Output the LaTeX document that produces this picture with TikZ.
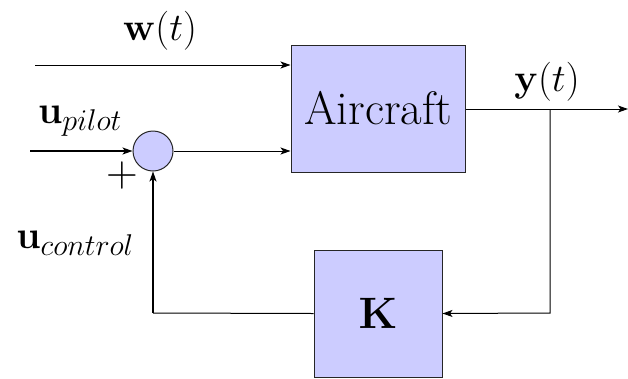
\documentclass[tikz,border=0pt]{standalone}
\usepackage{fix-cm}
\usetikzlibrary{arrows.meta}
\definecolor{boxfill}{RGB}{204,204,255}
\renewcommand{\defaultscriptratio}{.77}
\begin{document}
\begin{tikzpicture}[x=1pt,y=-1pt,
  blockbox/.style={draw=black!85,line width=1pt,fill=boxfill,inner sep=0pt,minimum width=174pt,minimum height=127pt},
  sumnode/.style={circle,draw=black!85,line width=1pt,fill=boxfill,inner sep=0pt,minimum size=40pt},
  conn/.style={line width=1pt,-{Stealth[length=10pt,width=7pt,inset=2.5pt]}},
  plainconn/.style={line width=1pt},
  lbl/.style={anchor=base,inner sep=0pt,font=\fontsize{39}{44}\selectfont}]
\useasboundingbox (0,0) rectangle (628,378);
\node[blockbox] (air) at (378,108.5) {\fontsize{47}{52}\selectfont Aircraft};
\node[blockbox,minimum width=128pt] (K) at (378,313.5) {\fontsize{44}{50}\selectfont$\mathbf{K}$};
\node[sumnode] (sum) at (153,151) {};
\coordinate (win) at (35,65);
\coordinate (pin) at (30,151);
\coordinate (yout) at (628,109);
\coordinate (br) at (550,109);
\coordinate (brd) at (550,313);
\coordinate (cl) at (153,313);
\draw[conn] (win) -- (win -| air.west);
\draw[conn,line width=1.4pt] (pin) -- (sum.west);
\draw[conn] (sum.east) -- (sum.east -| air.west);
\draw[conn] (air.east |- yout) -- (yout);
\draw[conn] (br) -- (brd) -- (K.east);
\draw[plainconn] (K.west) -- (cl);
\draw[conn,line width=1.2pt] (cl) -- (sum.south);
\node[lbl] (wl) at (160,40) {$\mathbf{w}(t)$};
\node[lbl] (yl) at (547,91) {$\mathbf{y}(t)$};
\node[lbl] (pl) at (80,123) {$\mathbf{u}_{pilot}$};
\node[lbl] (cll) at (75,248) {$\mathbf{u}_{control}$};
\node[inner sep=0pt,font=\fontsize{44}{48}\selectfont] (plus) at (122,175) {$+$};
\end{tikzpicture}
\end{document}
